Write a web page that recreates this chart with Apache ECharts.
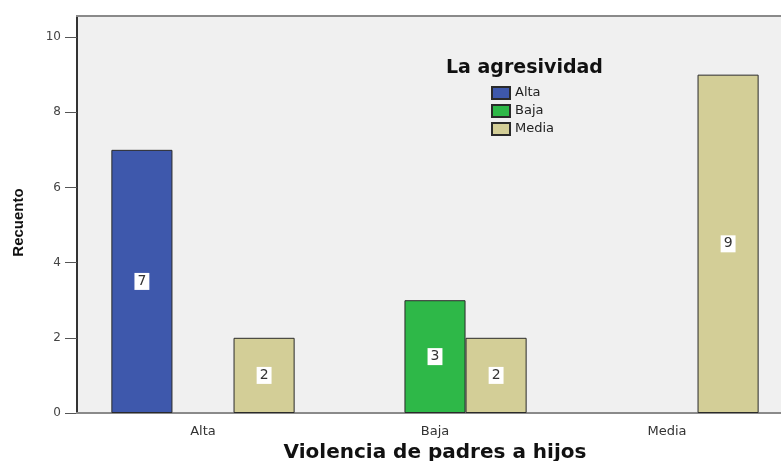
<!DOCTYPE html>
<html>
<head>
<meta charset="utf-8">
<script src="https://cdn.jsdelivr.net/npm/echarts@6/dist/echarts.min.js"></script>
<style>
html,body{margin:0;padding:0;background:#fff;}
#chart{width:781px;height:461px;}
</style>
</head>
<body>
<div id="chart"></div>
<script>
var categories = ['Alta', 'Baja', 'Media'];
var seriesNames = ['Alta', 'Baja', 'Media'];
var altaValues = [7, null, null];
var bajaValues = [null, 3, null];
var mediaValues = [2, 2, 9];
var yTicks = [0, 2, 4, 6, 8, 10];
var colors = ['#3E58AC', '#2EB848', '#D3CE97'];

var chart = echarts.init(document.getElementById('chart'));

function barSeries(name, data, color) {
  return {
    name: name,
    type: 'bar',
    data: data,
    barGap: '0%',
    barCategoryGap: '21%',
    itemStyle: { color: color, borderColor: '#2a2a2a', borderWidth: 1 },
    label: {
      show: true,
      position: 'inside',
      backgroundColor: '#ffffff',
      color: '#333',
      fontFamily: 'DejaVu Sans',
      fontSize: 14,
      padding: [2, 3, 1, 3]
    }
  };
}

var option = {
  animation: false,
  backgroundColor: '#ffffff',
  graphic: [
    { type: 'rect', z: -10, silent: true,
      shape: { x: 76, y: 16, width: 710, height: 397 },
      style: { fill: '#F0F0F0' } },
    { type: 'line', z: 5, silent: true,
      shape: { x1: 76, y1: 16, x2: 781, y2: 16 },
      style: { stroke: '#8a8a8a', lineWidth: 2 } },
    { type: 'line', z: 5, silent: true,
      shape: { x1: 76, y1: 413, x2: 87, y2: 413 },
      style: { stroke: '#8a8a8a', lineWidth: 2 } }
  ],
  title: {
    text: 'La agresividad',
    left: 441,
    top: 54,
    textStyle: { fontFamily: 'DejaVu Sans', fontWeight: 'bold', fontSize: 19, color: '#111' }
  },
  legend: {
    orient: 'vertical',
    left: 486,
    top: 81,
    itemWidth: 18,
    itemHeight: 12,
    itemGap: 4,
    icon: 'rect',
    data: seriesNames,
    textStyle: { fontFamily: 'DejaVu Sans', fontSize: 13, color: '#222' }
  },
  grid: { left: 87, right: -2, top: 16, bottom: 48, containLabel: false, outerBoundsMode: 'none' },
  xAxis: {
    type: 'category',
    data: categories,
    name: 'Violencia de padres a hijos',
    nameLocation: 'middle',
    nameGap: 28,
    nameTextStyle: { fontFamily: 'DejaVu Sans', fontWeight: 'bold', fontSize: 20, color: '#111' },
    axisLine: { lineStyle: { color: '#8a8a8a', width: 2 } },
    axisTick: { alignWithLabel: true, length: 5, lineStyle: { color: '#222' } },
    axisLabel: { fontFamily: 'DejaVu Sans', fontSize: 13, color: '#333', margin: 12 }
  },
  yAxis: {
    type: 'value',
    min: 0,
    max: 10.56,
    interval: 2,
    offset: 10,
    name: 'Recuento',
    nameLocation: 'middle',
    nameGap: 51,
    nameRotate: 90,
    nameTextStyle: { fontFamily: 'Liberation Sans', fontWeight: 'bold', fontSize: 15, color: '#111', padding: [0, 16, 0, 0] },
    axisLine: { show: true, lineStyle: { color: '#333', width: 2 } },
    axisTick: { show: true, length: 12, customValues: yTicks, lineStyle: { color: '#555' } },
    axisLabel: { customValues: yTicks, fontFamily: 'DejaVu Sans', fontSize: 12, color: '#444', margin: 16 },
    splitLine: { show: false }
  },
  series: [
    barSeries(seriesNames[0], altaValues, colors[0]),
    barSeries(seriesNames[1], bajaValues, colors[1]),
    barSeries(seriesNames[2], mediaValues, colors[2])
  ]
};
chart.setOption(option);
</script>
</body>
</html>
